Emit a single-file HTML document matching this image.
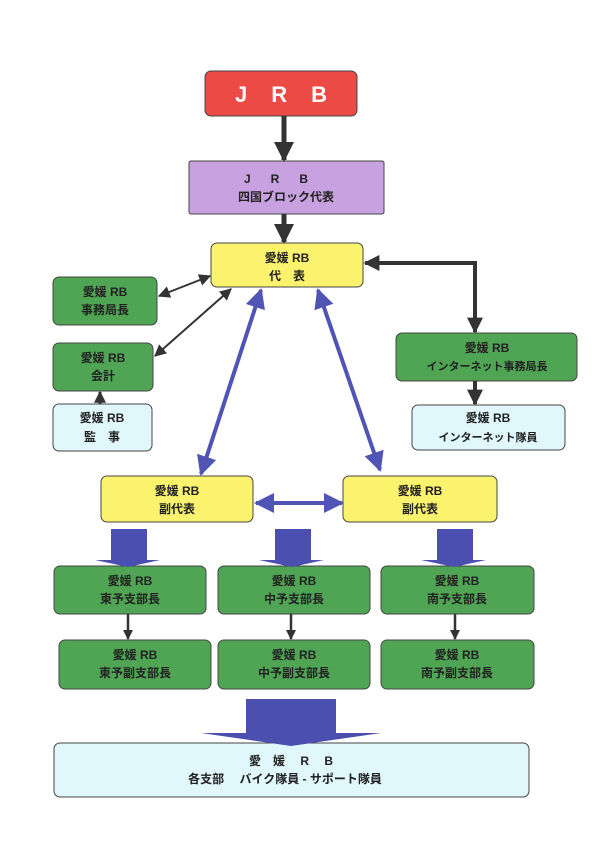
<!DOCTYPE html>
<html><head><meta charset="utf-8"><style>
html,body{margin:0;padding:0;background:#fff;}
text{font-family:"Liberation Sans","Noto Sans CJK JP",sans-serif;font-weight:bold;fill:#222;text-anchor:middle;}
</style></head><body>
<svg width="610" height="840" viewBox="0 0 610 840" xmlns="http://www.w3.org/2000/svg">
<defs>
<marker id="ab" viewBox="0 0 10 10" refX="9" refY="5" markerWidth="4" markerHeight="4" orient="auto-start-reverse"><path d="M0,0L10,5L0,10z" fill="#333"/></marker>
<marker id="as" viewBox="0 0 10 10" refX="9" refY="5" markerWidth="6" markerHeight="6" orient="auto-start-reverse"><path d="M0,0L10,5L0,10z" fill="#333"/></marker>
<marker id="bl" viewBox="0 0 10 10" refX="9" refY="5" markerWidth="5" markerHeight="5" orient="auto-start-reverse"><path d="M0,0L10,5L0,10z" fill="#5055b5"/></marker>
</defs>
<g stroke="#444" stroke-width="1">
<rect x="205" y="71" width="152" height="45" rx="6" fill="#ec4a45"/>
<rect x="189" y="161" width="195" height="53" rx="2" fill="#c8a2e0"/>
<rect x="211" y="243" width="152" height="44" rx="6" fill="#fbf36e"/>
<rect x="53" y="277" width="104" height="48" rx="6" fill="#4fa553"/>
<rect x="53" y="343" width="100" height="48" rx="6" fill="#4fa553"/>
<rect x="53" y="404" width="99" height="47" rx="6" fill="#e0f7fb"/>
<rect x="396" y="333" width="181" height="48" rx="6" fill="#4fa553"/>
<rect x="412" y="405" width="153" height="45" rx="6" fill="#e0f7fb"/>
<rect x="101" y="476" width="152" height="46" rx="6" fill="#fbf36e"/>
<rect x="343" y="476" width="154" height="46" rx="6" fill="#fbf36e"/>
<rect x="54" y="566" width="152" height="48" rx="6" fill="#4fa553"/>
<rect x="218" y="566" width="152" height="48" rx="6" fill="#4fa553"/>
<rect x="381" y="566" width="153" height="48" rx="6" fill="#4fa553"/>
<rect x="59" y="640" width="152" height="49" rx="6" fill="#4fa553"/>
<rect x="218" y="640" width="152" height="49" rx="6" fill="#4fa553"/>
<rect x="381" y="640" width="153" height="49" rx="6" fill="#4fa553"/>
<rect x="54" y="743" width="475" height="54" rx="6" fill="#e0f7fb"/>
</g>
<g stroke="#333" fill="none">
<line x1="284" y1="116" x2="284" y2="160" stroke-width="5" marker-end="url(#ab)"/>
<line x1="284" y1="214" x2="284" y2="242" stroke-width="5" marker-end="url(#ab)"/>
<polyline points="475,332 475,263 365,263" stroke-width="4" marker-end="url(#ab)" marker-start="url(#ab)"/>
<line x1="475" y1="381" x2="475" y2="404" stroke-width="4" marker-end="url(#ab)"/>
<line x1="159" y1="296" x2="210" y2="276" stroke-width="2" marker-end="url(#as)" marker-start="url(#as)"/>
<line x1="155" y1="356" x2="231" y2="289" stroke-width="2" marker-end="url(#as)" marker-start="url(#as)"/>
<line x1="100" y1="404" x2="100" y2="392" stroke-width="3" marker-end="url(#ab)"/>
<line x1="128" y1="614" x2="128" y2="639" stroke-width="2.5" marker-end="url(#ab)"/>
<line x1="291" y1="614" x2="291" y2="639" stroke-width="2.5" marker-end="url(#ab)"/>
<line x1="455" y1="614" x2="455" y2="639" stroke-width="2.5" marker-end="url(#ab)"/>
</g>
<g stroke="#5055b5" fill="none" stroke-width="4">
<line x1="261" y1="290" x2="201" y2="474" marker-end="url(#bl)" marker-start="url(#bl)"/>
<line x1="318" y1="290" x2="380" y2="470" marker-end="url(#bl)" marker-start="url(#bl)"/>
<line x1="256" y1="503" x2="342" y2="503" marker-end="url(#bl)" marker-start="url(#bl)"/>
</g>
<g fill="#4a4fb0">
<path d="M111,529H147V560H160L128,567L95,560H111z"/>
<path d="M275,529H311V560H324L292,567L259,560H275z"/>
<path d="M437,529H473V560H486L454,567L421,560H437z"/>
<path d="M246,699H336V733H381L291,746L201,733H246z"/>
</g>
<text x="293" y="102" font-size="22" style="fill:#fff" letter-spacing="24">JRB</text>
<text x="286" y="183" font-size="12" letter-spacing="20">JRB</text>
<text x="286" y="201" font-size="12">四国ブロック代表</text>
<text x="287" y="262" font-size="12">愛媛 RB</text>
<text x="287" y="280" font-size="12">代　表</text>
<text x="105" y="296" font-size="12">愛媛 RB</text>
<text x="105" y="314" font-size="12">事務局長</text>
<text x="103" y="362" font-size="12">愛媛 RB</text>
<text x="103" y="380" font-size="12">会計</text>
<text x="102" y="422" font-size="12">愛媛 RB</text>
<text x="102" y="441" font-size="12">監　事</text>
<text x="487" y="352" font-size="12">愛媛 RB</text>
<text x="487" y="370" font-size="11">インターネット事務局長</text>
<text x="488" y="422" font-size="12">愛媛 RB</text>
<text x="488" y="441" font-size="11">インターネット隊員</text>
<text x="177" y="495" font-size="12">愛媛 RB</text>
<text x="177" y="513" font-size="12">副代表</text>
<text x="420" y="495" font-size="12">愛媛 RB</text>
<text x="420" y="513" font-size="12">副代表</text>
<text x="130" y="585" font-size="12">愛媛 RB</text>
<text x="130" y="603" font-size="12">東予支部長</text>
<text x="294" y="585" font-size="12">愛媛 RB</text>
<text x="294" y="603" font-size="12">中予支部長</text>
<text x="457" y="585" font-size="12">愛媛 RB</text>
<text x="457" y="603" font-size="12">南予支部長</text>
<text x="135" y="659" font-size="12">愛媛 RB</text>
<text x="135" y="677" font-size="12">東予副支部長</text>
<text x="294" y="659" font-size="12">愛媛 RB</text>
<text x="294" y="677" font-size="12">中予副支部長</text>
<text x="457" y="659" font-size="12">愛媛 RB</text>
<text x="457" y="677" font-size="12">南予副支部長</text>
<text x="291" y="765" font-size="12" xml:space="preserve">愛　媛　 R　 B</text>
<text x="285" y="783" font-size="12" xml:space="preserve">各支部　 バイク隊員 - サポート隊員</text>
</svg>
</body></html>
